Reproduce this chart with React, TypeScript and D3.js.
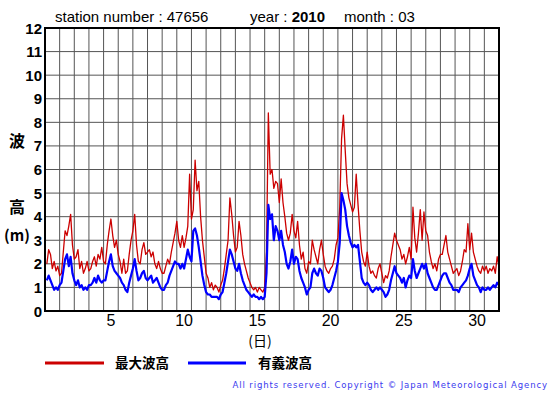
import React from "react";
import * as d3 from "d3";

// 3-hourly readings (8 per day, hours 3..24), March 2010, station 47656
const maxWave = [
  2.0, 2.6, 2.4, 1.8, 2.1, 1.7, 1.9, 1.5, // 1
  1.6, 2.5, 3.4, 3.2, 3.6, 4.1, 2.8, 2.2, // 2
  2.3, 2.6, 1.8, 2.1, 1.6, 1.8, 2.1, 1.7, // 3
  1.8, 2.1, 2.3, 1.9, 2.4, 2.2, 2.7, 2.1, // 4
  2.0, 2.8, 3.4, 3.9, 3.2, 2.7, 3.0, 2.4, // 5
  2.1, 1.6, 2.2, 1.6, 1.7, 2.4, 3.0, 3.4, // 6
  4.1, 2.8, 2.1, 2.0, 2.6, 2.9, 2.4, 2.5, // 7
  2.6, 2.3, 2.5, 2.0, 1.8, 2.1, 1.8, 1.6, // 8
  1.6, 1.9, 2.2, 2.0, 2.5, 2.9, 3.3, 3.8, // 9
  3.0, 2.7, 3.2, 2.7, 3.1, 3.6, 5.8, 3.9, // 10
  4.3, 6.4, 5.1, 5.5, 4.0, 3.0, 2.3, 1.6, // 11
  1.4, 1.0, 1.2, 0.9, 1.1, 1.0, 0.8, 1.1, // 12
  1.3, 1.8, 2.4, 3.0, 4.8, 4.1, 3.2, 2.5, // 13
  2.7, 3.8, 3.2, 2.4, 2.0, 1.7, 1.4, 1.2, // 14
  1.0, 0.9, 1.0, 0.8, 1.0, 0.9, 0.8, 1.0, // 15
  2.5, 8.4, 5.8, 6.0, 5.2, 5.5, 5.4, 4.6, // 16
  5.6, 4.6, 4.0, 3.3, 3.0, 3.3, 4.1, 3.4, // 17
  3.1, 3.8, 2.8, 2.2, 2.5, 1.8, 1.6, 2.1, // 18
  2.0, 3.0, 2.6, 2.3, 2.0, 2.6, 3.0, 2.4, // 19
  1.9, 1.7, 1.6, 1.8, 1.9, 2.2, 2.8, 3.1, // 20
  4.4, 7.3, 8.3, 6.8, 5.4, 4.8, 4.5, 4.2, // 21
  4.4, 5.8, 4.5, 3.4, 2.5, 2.1, 1.9, 2.5, // 22
  1.9, 1.6, 1.7, 1.5, 1.4, 1.8, 2.0, 1.6, // 23
  1.2, 1.5, 1.4, 1.7, 2.3, 2.8, 3.3, 3.0, // 24
  2.8, 2.6, 2.2, 2.4, 2.0, 2.3, 2.7, 2.2, // 25
  4.4, 3.1, 2.5, 3.3, 4.3, 3.0, 4.2, 3.4, // 26
  3.2, 2.5, 2.1, 1.8, 2.0, 1.7, 2.2, 2.4, // 27
  2.4, 2.8, 3.2, 2.5, 2.2, 1.9, 1.6, 1.7, // 28
  1.8, 1.5, 1.7, 2.1, 2.6, 2.5, 3.7, 2.6, // 29
  3.3, 2.5, 2.2, 1.9, 1.7, 1.6, 1.9, 1.7, // 30
  1.9, 1.6, 1.8, 1.7, 1.9, 1.6, 2.3, 1.9, // 31
];

const sigWave = [
  1.3, 1.5, 1.3, 1.1, 0.9, 1.0, 0.9, 1.1, // 1
  1.2, 1.7, 2.2, 2.4, 1.9, 2.3, 1.6, 1.3, // 2
  1.1, 1.3, 1.0, 1.1, 0.9, 1.0, 0.9, 1.1, // 3
  1.1, 1.2, 1.4, 1.2, 1.5, 1.3, 1.2, 1.3, // 4
  1.3, 1.7, 2.1, 2.4, 1.9, 1.7, 1.6, 1.5, // 5
  1.4, 1.2, 1.1, 0.9, 0.8, 1.2, 1.5, 1.8, // 6
  2.2, 1.7, 1.3, 1.4, 1.6, 1.7, 1.4, 1.3, // 7
  1.4, 1.5, 1.2, 1.3, 1.4, 1.2, 1.0, 0.9, // 8
  0.9, 1.1, 1.2, 1.5, 1.7, 1.9, 2.1, 2.0, // 9
  2.0, 1.8, 2.0, 1.8, 2.2, 2.6, 2.3, 2.1, // 10
  3.4, 3.5, 3.2, 2.7, 2.1, 1.5, 1.1, 0.8, // 11
  0.7, 0.7, 0.6, 0.6, 0.6, 0.6, 0.5, 0.7, // 12
  0.8, 1.2, 1.6, 2.1, 2.6, 2.4, 2.1, 1.8, // 13
  1.7, 2.0, 1.6, 1.3, 1.1, 0.9, 0.8, 0.7, // 14
  0.6, 0.7, 0.6, 0.6, 0.5, 0.6, 0.5, 0.6, // 15
  1.6, 4.5, 3.9, 4.1, 3.0, 3.6, 3.4, 3.0, // 16
  3.4, 2.8, 2.5, 2.0, 1.8, 2.1, 2.6, 2.0, // 17
  2.3, 2.2, 1.7, 1.4, 1.2, 1.0, 0.7, 0.9, // 18
  1.0, 1.6, 1.8, 1.6, 1.5, 1.8, 1.7, 1.4, // 19
  1.0, 0.9, 0.8, 0.9, 1.1, 1.4, 1.7, 2.1, // 20
  2.9, 5.0, 4.7, 4.3, 3.6, 3.2, 2.9, 2.7, // 21
  2.8, 2.7, 2.8, 2.1, 1.4, 1.2, 1.1, 1.2, // 22
  1.1, 0.9, 0.8, 0.9, 1.0, 0.9, 1.0, 0.9, // 23
  0.8, 0.6, 0.7, 0.9, 1.3, 1.6, 1.9, 1.6, // 24
  1.5, 1.4, 1.2, 1.4, 1.0, 1.3, 1.5, 1.4, // 25
  2.2, 1.7, 1.4, 1.6, 1.8, 2.0, 1.8, 2.0, // 26
  1.6, 1.4, 1.2, 1.0, 0.9, 0.9, 1.1, 1.3, // 27
  1.5, 1.6, 1.6, 1.4, 1.2, 1.1, 0.9, 0.9, // 28
  0.9, 0.8, 1.0, 1.1, 1.2, 1.3, 1.5, 1.8, // 29
  2.0, 1.5, 1.3, 1.1, 1.0, 0.8, 1.0, 0.9, // 30
  0.9, 1.0, 0.9, 1.0, 1.1, 1.0, 1.2, 1.1, // 31
];

const yTicks = [0, 1, 2, 3, 4, 5, 6, 7, 8, 9, 10, 11, 12];
const dayLabels = [5, 10, 15, 20, 25, 30];
const numDays = 31;

const FONT = "'Liberation Sans', Arial, sans-serif";
const JP = "'Noto Sans CJK JP', sans-serif";

const App = () => {
  const left = 45;
  const right = 499;
  const top = 28;
  const bottom = 311;

  const x = d3.scaleLinear().domain([0, numDays]).range([left, right]);
  const y = d3.scaleLinear().domain([0, 12]).range([bottom, top]);

  // hour index -> day position (hours 3, 6, ... 24 of each day)
  const line = d3
    .line<number>()
    .x((d, i) => x(((i + 1) * 3) / 24))
    .y((d) => y(d));

  const dayGrid = d3.range(1, numDays);

  return (
    <svg
      width={555}
      height={395}
      style={{ position: "absolute", left: 0, top: 0, background: "#fff" }}
    >
      {/* title */}
      <text x={55} y={22} fontFamily={FONT} fontSize={15} fill="#000">
        station number : 47656
      </text>
      <text x={250} y={22} fontFamily={FONT} fontSize={15} fill="#000">
        year : <tspan fontWeight="bold">2010</tspan>
      </text>
      <text x={344} y={22} fontFamily={FONT} fontSize={15} fill="#000">
        month : 03
      </text>

      {/* grid */}
      {yTicks.slice(1, -1).map((t) => (
        <line
          key={"h" + t}
          x1={left}
          x2={right}
          y1={y(t)}
          y2={y(t)}
          stroke="#555"
          strokeWidth={1}
        />
      ))}
      {dayGrid.map((d) => (
        <line
          key={"v" + d}
          x1={x(d)}
          x2={x(d)}
          y1={top}
          y2={bottom}
          stroke="#555"
          strokeWidth={1}
        />
      ))}

      {/* series */}
      <path
        d={line(maxWave) || ""}
        fill="none"
        stroke="#cc0000"
        strokeWidth={1.3}
        strokeLinejoin="round"
      />
      <path
        d={line(sigWave) || ""}
        fill="none"
        stroke="#0000ff"
        strokeWidth={2.2}
        strokeLinejoin="round"
      />

      {/* frame */}
      <rect
        x={left}
        y={top}
        width={right - left}
        height={bottom - top}
        fill="none"
        stroke="#000"
        strokeWidth={2}
      />

      {/* y axis labels */}
      {yTicks.map((t) => (
        <text
          key={"yl" + t}
          x={42}
          y={y(t) + 5.5}
          textAnchor="end"
          fontFamily={FONT}
          fontWeight="bold"
          fontSize={15}
          fill="#000"
        >
          {t}
        </text>
      ))}
      <text x={17} y={147} textAnchor="middle" fontFamily={JP} fontWeight="bold" fontSize={16}>
        波
      </text>
      <text x={17} y={213} textAnchor="middle" fontFamily={JP} fontWeight="bold" fontSize={16}>
        高
      </text>
      <text x={17} y={241} textAnchor="middle" fontFamily={JP} fontWeight="bold" fontSize={15}>
        (m)
      </text>

      {/* x axis labels */}
      {dayLabels.map((d) => (
        <text
          key={"xl" + d}
          x={x(d - 0.5)}
          y={326}
          textAnchor="middle"
          fontFamily={FONT}
          fontSize={16}
          fill="#000"
        >
          {d}
        </text>
      ))}
      <text x={260} y={346} textAnchor="middle" fontFamily={JP} fontSize={14}>
        (日)
      </text>

      {/* legend */}
      <line x1={45} x2={104} y1={363} y2={363} stroke="#cc0000" strokeWidth={3} />
      <text x={115} y={368} fontFamily={JP} fontWeight="bold" fontSize={13.5}>
        最大波高
      </text>
      <line x1={188} x2={246} y1={363} y2={363} stroke="#0000ff" strokeWidth={3} />
      <text x={258} y={368} fontFamily={JP} fontWeight="bold" fontSize={13.5}>
        有義波高
      </text>

      {/* credit */}
      <text
        x={548}
        y={388}
        textAnchor="end"
        fontFamily="'DejaVu Sans', sans-serif"
        fontSize={8.5}
        letterSpacing={0.9}
        fill="#3a3aee"
      >
        All rights reserved. Copyright © Japan Meteorological Agency
      </text>
    </svg>
  );
};

export default App;
